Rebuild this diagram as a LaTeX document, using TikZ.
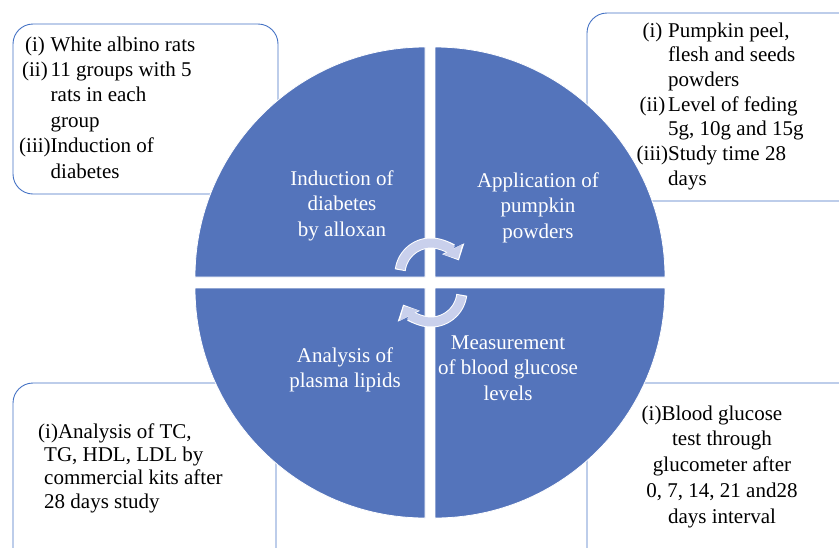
\documentclass[tikz,border=0pt]{standalone}
\usepackage{fontspec}
\setmainfont{Liberation Serif}
\usetikzlibrary{arrows.meta}
\definecolor{pieblue}{RGB}{84,116,187}
\definecolor{boxblue}{RGB}{68,114,196}
\definecolor{cyclelav}{RGB}{201,208,236}

\begin{document}
\begin{tikzpicture}[x=1pt, y=-1pt,
    infobox/.style={draw=boxblue, line width=0.9pt, rounded corners=20pt},
    quarter/.style={fill=pieblue, draw=white, line width=0.8pt},
    pietext/.style={inner sep=0pt, anchor=base, text=white, font=\fontsize{21}{25.7}\selectfont},
    boxtext/.style={inner sep=0pt, anchor=base west, font=\fontsize{21}{25.4}\selectfont}]
    \clip (0,0) rectangle (839,547);

    % Side boxes (behind the circle)
    \draw[infobox] (13,24) rectangle (278,194);
    \draw[infobox] (587,13) rectangle (870,201);
    \draw[infobox] (13,383) rectangle (276,580);
    \draw[infobox] (587,383) rectangle (870,580);

    % Quarters of the circle
    \draw[quarter] (425,277) -- ++(180:230) arc[start angle=180, end angle=270, radius=230] -- cycle;
    \draw[quarter] (435,277) -- ++(270:230) arc[start angle=270, end angle=360, radius=230] -- cycle;
    \draw[quarter] (435,288) -- ++(0:230) arc[start angle=0, end angle=90, radius=230] -- cycle;
    \draw[quarter] (425,288) -- ++(90:230) arc[start angle=90, end angle=180, radius=230] -- cycle;

    % Cycle arrows in the middle
    \draw[line width=11pt, white, -{Triangle[width=24pt,length=13pt]}] (431,274) ++(187:31) arc[start angle=187, end angle=334, radius=31];
    \draw[line width=9pt, cyclelav, -{Triangle[width=21pt,length=11pt]}] (431,274) ++(189:31) arc[start angle=189, end angle=331, radius=31];
    \draw[line width=11pt, white, -{Triangle[width=24pt,length=13pt]}] (431,291) ++(7:31) arc[start angle=7, end angle=154, radius=31];
    \draw[line width=9pt, cyclelav, -{Triangle[width=21pt,length=11pt]}] (431,291) ++(9:31) arc[start angle=9, end angle=151, radius=31];

    % Labels in the quarters
    \node[pietext] (induction) at (342,185) {\begin{tabular}[t]{@{}c@{}}Induction of\\ diabetes\\ by alloxan\end{tabular}};
    \node[pietext] (application) at (538,187) {\begin{tabular}[t]{@{}c@{}}Application of\\ pumpkin\\ powders\end{tabular}};
    \node[pietext] (analysis) at (345,362) {\begin{tabular}[t]{@{}c@{}}Analysis of\\ plasma lipids\end{tabular}};
    \node[pietext] (measurement) at (508,349) {\begin{tabular}[t]{@{}c@{}}Measurement\\ of blood glucose\\ levels\end{tabular}};

    % Texts of the side boxes
    \node[boxtext] (ratsinfo) at (19,51) {\begin{tabular}[t]{@{}c@{}l@{}}
        (i)&White albino rats\\ (ii)&11 groups with 5\\ &rats in each\\ &group\\ (iii)&Induction of\\ &diabetes
    \end{tabular}};
    \node[boxtext, font=\fontsize{21}{24.7}\selectfont] (pumpkininfo) at (636.5,37) {\begin{tabular}[t]{@{}c@{}l@{}}
        (i)&Pumpkin peel,\\ &flesh and seeds\\ &powders\\ (ii)&Level of feding\\ &5g, 10g and 15g\\ (iii)&Study time 28\\ &days
    \end{tabular}};
    \node[boxtext, font=\fontsize{21}{23.4}\selectfont] (lipidinfo) at (38,438) {\begin{tabular}[t]{@{}l@{}}
        (i)Analysis of TC,\\ \hspace*{6pt}TG, HDL, LDL by\\ \hspace*{6pt}commercial kits after\\ \hspace*{6pt}28 days study
    \end{tabular}};
    \node[boxtext, anchor=base, font=\fontsize{21}{25.8}\selectfont] (glucoseinfo) at (722,420) {\begin{tabular}[t]{@{}c@{}}
        (i)Blood glucose\hspace*{20pt}\\ test through\\ glucometer after\\ 0, 7, 14, 21 and28\\ days interval
    \end{tabular}};
\end{tikzpicture}
\end{document}
